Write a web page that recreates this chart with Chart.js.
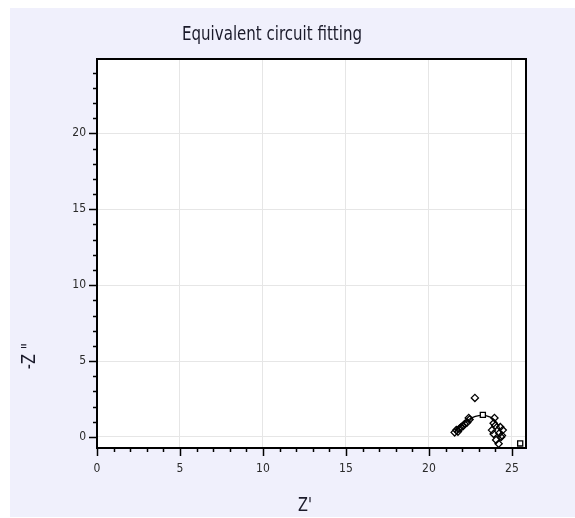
<!DOCTYPE html>
<html>
<head>
<meta charset="utf-8">
<script src="https://cdn.jsdelivr.net/npm/chart.js@4"></script>
<style>
html,body{margin:0;padding:0;background:#fff;}
canvas{display:block;}
</style>
</head>
<body>
<canvas id="c" width="575" height="518"></canvas>
<script>
// Observed impedance data (Z', -Z")
const obsX = [21.55, 21.65, 21.75, 21.85, 21.95, 22.05, 22.15, 22.3, 22.4, 22.45, 22.77, 23.95, 23.9, 24.0, 24.3, 24.45, 23.8, 24.25, 23.9, 24.35, 24.05, 24.2, 24.4];
const obsY = [0.30, 0.45, 0.35, 0.55, 0.65, 0.70, 0.85, 0.95, 1.25, 1.15, 2.57, 1.25, 0.90, 0.75, 0.65, 0.45, 0.45, 0.25, 0.20, 0.00, -0.20, -0.45, 0.10];
// Fitted equivalent-circuit curve
const fitX = [21.55, 21.8, 22.1, 22.4, 22.8, 23.25, 23.7, 24.0, 24.2, 24.35];
const fitY = [0.30, 0.60, 0.90, 1.15, 1.35, 1.42, 1.30, 1.05, 0.70, 0.25];
// Square markers
const sqX = [23.25, 25.5];
const sqY = [1.45, -0.43];
// Axis settings
const xTickLabels = [0, 5, 10, 15, 20, 25];
const yTickLabels = [0, 5, 10, 15, 20];
const titleText = 'Equivalent circuit fitting';
const xTitle = "Z'";
const yTitle = '-Z "';

const toPts = (xs, ys) => xs.map((x, i) => ({x: x, y: ys[i]}));
const FONT = "'Liberation Sans Narrow', 'Arial Narrow', 'DejaVu Sans Condensed', sans-serif";

function narrowText(ctx, text, x, y, sx, rot) {
  ctx.save();
  ctx.translate(x, y);
  if (rot) ctx.rotate(rot);
  ctx.scale(sx, 1);
  ctx.fillText(text, 0, 0);
  ctx.restore();
}

const decor = {
  id: 'decor',
  beforeDraw(chart) {
    const ctx = chart.ctx, a = chart.chartArea;
    ctx.save();
    ctx.fillStyle = '#ffffff';
    ctx.fillRect(0, 0, chart.width, chart.height);
    ctx.fillStyle = '#f0f0fc';
    ctx.fillRect(10, 8, chart.width - 10, chart.height - 9);
    ctx.fillStyle = '#ffffff';
    ctx.fillRect(a.left, a.top, a.right - a.left, a.bottom - a.top);
    ctx.restore();
  },
  afterDraw(chart) {
    const ctx = chart.ctx, a = chart.chartArea;
    const xs = chart.scales.x, ys = chart.scales.y;
    ctx.save();
    ctx.strokeStyle = '#000';
    ctx.lineWidth = 1.5;
    // tick marks
    for (let v = 0; v <= 25; v++) {
      const p = Math.round(xs.getPixelForValue(v)) + 0.5;
      const len = (v % 5 === 0) ? 8 : 4;
      ctx.beginPath(); ctx.moveTo(p, a.bottom); ctx.lineTo(p, a.bottom + len); ctx.stroke();
    }
    for (let v = 0; v <= 24; v++) {
      const p = Math.round(ys.getPixelForValue(v)) + 0.5;
      const len = (v % 5 === 0) ? 8 : 4;
      ctx.beginPath(); ctx.moveTo(a.left, p); ctx.lineTo(a.left - len, p); ctx.stroke();
    }
    // frame
    ctx.lineWidth = 2;
    ctx.strokeRect(a.left, a.top, a.right - a.left, a.bottom - a.top);
    // titles
    ctx.fillStyle = '#1a1a2a';
    ctx.textAlign = 'center';
    ctx.textBaseline = 'middle';
    ctx.font = '19px ' + FONT;
    narrowText(ctx, titleText, 272, 35, 0.88, 0);
    narrowText(ctx, xTitle, 305, 506, 0.85, 0);
    narrowText(ctx, yTitle, 30, 356, 0.85, -Math.PI / 2);
    ctx.restore();
  }
};

new Chart(document.getElementById('c'), {
  type: 'scatter',
  data: {
    datasets: [
      {
        label: 'Fit',
        data: toPts(fitX, fitY),
        showLine: true,
        tension: 0.4,
        pointRadius: 0,
        borderColor: '#000',
        borderWidth: 1.3,
        order: 3
      },
      {
        label: 'Observed',
        data: toPts(obsX, obsY),
        pointStyle: 'rectRot',
        pointRadius: 3.6,
        borderColor: '#000',
        backgroundColor: 'rgba(0,0,0,0)',
        borderWidth: 1.3,
        order: 1
      },
      {
        label: 'Squares',
        data: toPts(sqX, sqY),
        pointStyle: 'rect',
        pointRadius: 3.6,
        borderColor: '#000',
        backgroundColor: '#fff',
        borderWidth: 1.3,
        order: 2
      }
    ]
  },
  options: {
    responsive: false,
    animation: false,
    devicePixelRatio: 1,
    layout: { padding: { left: 0, top: 59, right: 49, bottom: 0 } },
    plugins: { legend: { display: false }, tooltip: { enabled: false }, title: { display: false } },
    scales: {
      x: {
        type: 'linear',
        min: 0, max: 25.85,
        afterFit(s) { s.height = 70; },
        afterBuildTicks(s) { s.ticks = xTickLabels.map(v => ({value: v})); },
        ticks: { stepSize: 5, includeBounds: false, padding: 14, color: '#2a2a2a', font: { family: FONT, size: 12 }, maxRotation: 0 },
        grid: { color: '#e6e6e6', drawTicks: false, lineWidth: 1 },
        border: { display: true, color: '#000', width: 1.5 }
      },
      y: {
        type: 'linear',
        min: -0.73, max: 24.9,
        afterFit(s) { s.width = 97; },
        afterBuildTicks(s) { s.ticks = yTickLabels.map(v => ({value: v})); },
        ticks: { stepSize: 5, includeBounds: false, padding: 11, color: '#2a2a2a', font: { family: FONT, size: 12 } },
        grid: { color: '#e6e6e6', drawTicks: false, lineWidth: 1 },
        border: { display: true, color: '#000', width: 1.5 }
      }
    }
  },
  plugins: [decor]
});
</script>
</body>
</html>
